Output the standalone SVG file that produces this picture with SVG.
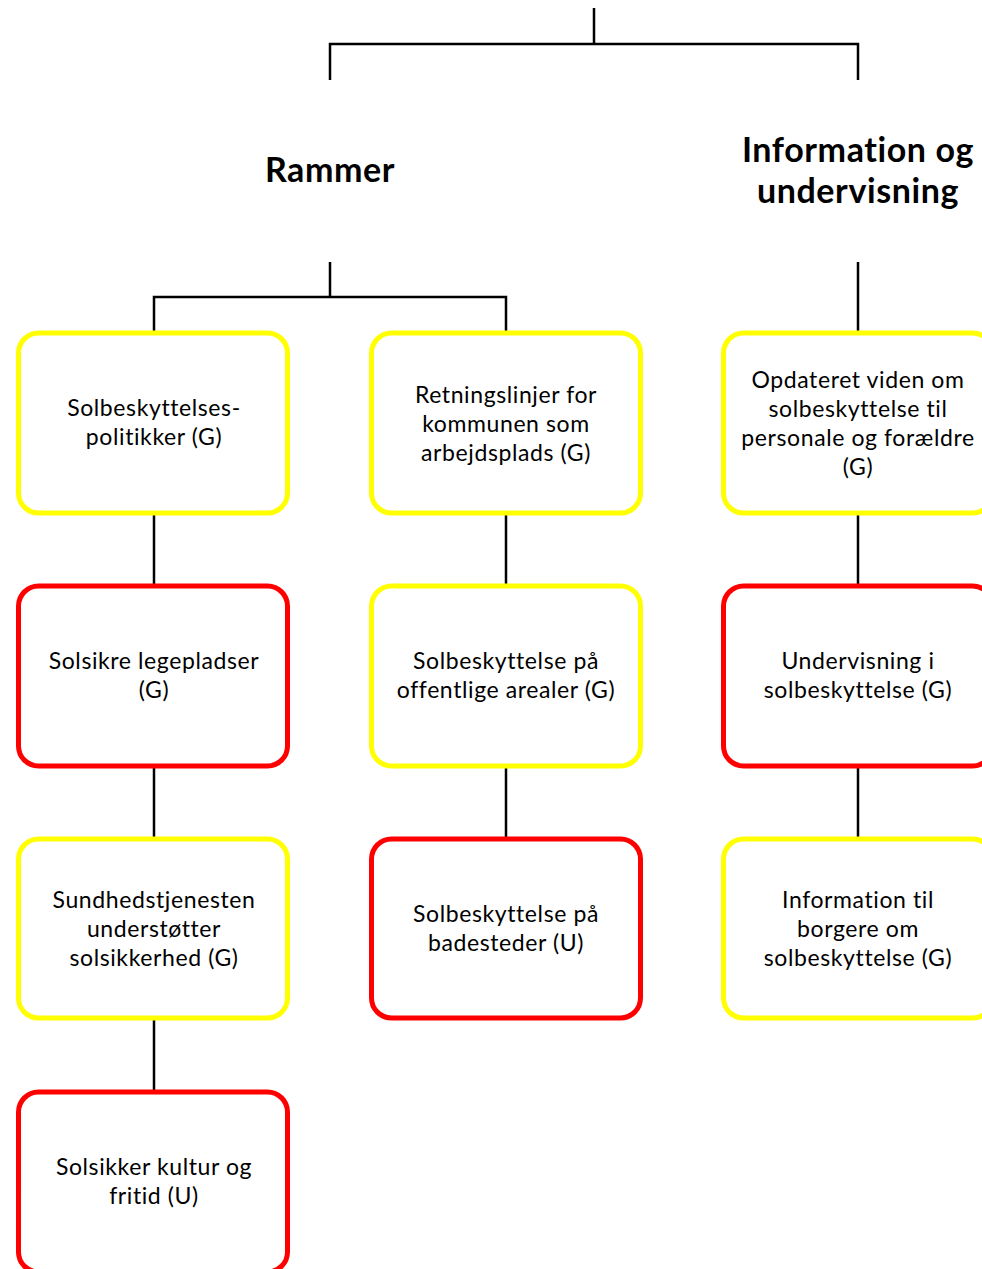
<svg xmlns="http://www.w3.org/2000/svg" width="982" height="1269" viewBox="0 0 982 1269">
  <style>
    .bg { fill: #ffffff; }
    .box { fill: #ffffff; stroke-width: 5; }
    .yellow { stroke: #ffff00; }
    .red { stroke: #ff0000; }
    .line { fill: none; stroke: #000000; stroke-width: 2.5; }
    .label { font-family: Lato, "Open Sans", "Liberation Sans", sans-serif; font-size: 23px; letter-spacing: 0.6px; font-variant-ligatures: none; fill: #000000; text-anchor: middle; }
    .title { font-family: Lato, "Open Sans", "Liberation Sans", sans-serif; font-size: 34px; letter-spacing: 0.6px; font-variant-ligatures: none; font-weight: bold; fill: #000000; text-anchor: middle; }
  </style>
  <rect class="bg" x="0" y="0" width="982" height="1269"/>

  <!-- connectors -->
  <g id="connectors">
    <path class="line" d="M594 8 V44 M330 80 V44 H858 V80"/>
    <path class="line" d="M330 262 V297 M154 331 V297 H506 V331"/>
    <path class="line" d="M858 262 V331"/>
    <path class="line" d="M154 514 V584 M154 767 V837 M154 1019 V1090"/>
    <path class="line" d="M506 514 V584 M506 767 V837"/>
    <path class="line" d="M858 514 V584 M858 767 V837"/>
  </g>

  <!-- group headings -->
  <g id="rammer">
    <text class="title" x="330" y="182">Rammer</text>
  </g>
  <g id="information-og-undervisning">
    <text class="title" x="858" y="162">Information og</text>
    <text class="title" x="858" y="203">undervisning</text>
  </g>

  <!-- column: Rammer (left) -->
  <g id="solbeskyttelsespolitikker">
    <rect class="box yellow" x="18.5" y="333" width="269" height="180" rx="20"/>
    <text class="label" x="154" y="416">Solbeskyttelses-</text>
    <text class="label" x="154" y="445">politikker (G)</text>
  </g>
  <g id="solsikre-legepladser">
    <rect class="box red" x="18.5" y="586" width="269" height="180" rx="20"/>
    <text class="label" x="154" y="669">Solsikre legepladser</text>
    <text class="label" x="154" y="698">(G)</text>
  </g>
  <g id="sundhedstjenesten">
    <rect class="box yellow" x="18.5" y="839" width="269" height="179" rx="20"/>
    <text class="label" x="154" y="908">Sundhedstjenesten</text>
    <text class="label" x="154" y="937">understøtter</text>
    <text class="label" x="154" y="966">solsikkerhed (G)</text>
  </g>
  <g id="solsikker-kultur">
    <rect class="box red" x="18.5" y="1092" width="269" height="180" rx="20"/>
    <text class="label" x="154" y="1175">Solsikker kultur og</text>
    <text class="label" x="154" y="1204">fritid (U)</text>
  </g>

  <!-- column: Rammer (middle) -->
  <g id="retningslinjer">
    <rect class="box yellow" x="371.5" y="333" width="269" height="180" rx="20"/>
    <text class="label" x="506" y="403">Retningslinjer for</text>
    <text class="label" x="506" y="432">kommunen som</text>
    <text class="label" x="506" y="461">arbejdsplads (G)</text>
  </g>
  <g id="offentlige-arealer">
    <rect class="box yellow" x="371.5" y="586" width="269" height="180" rx="20"/>
    <text class="label" x="506" y="669">Solbeskyttelse på</text>
    <text class="label" x="506" y="698">offentlige arealer (G)</text>
  </g>
  <g id="badesteder">
    <rect class="box red" x="371.5" y="839" width="269" height="179" rx="20"/>
    <text class="label" x="506" y="922">Solbeskyttelse på</text>
    <text class="label" x="506" y="951">badesteder (U)</text>
  </g>

  <!-- column: Information og undervisning (right) -->
  <g id="opdateret-viden">
    <rect class="box yellow" x="723.5" y="333" width="269" height="180" rx="20"/>
    <text class="label" x="858" y="388">Opdateret viden om</text>
    <text class="label" x="858" y="417">solbeskyttelse til</text>
    <text class="label" x="858" y="446">personale og forældre</text>
    <text class="label" x="858" y="475">(G)</text>
  </g>
  <g id="undervisning">
    <rect class="box red" x="723.5" y="586" width="269" height="180" rx="20"/>
    <text class="label" x="858" y="669">Undervisning i</text>
    <text class="label" x="858" y="698">solbeskyttelse (G)</text>
  </g>
  <g id="information-borgere">
    <rect class="box yellow" x="723.5" y="839" width="269" height="179" rx="20"/>
    <text class="label" x="858" y="908">Information til</text>
    <text class="label" x="858" y="937">borgere om</text>
    <text class="label" x="858" y="966">solbeskyttelse (G)</text>
  </g>
</svg>
